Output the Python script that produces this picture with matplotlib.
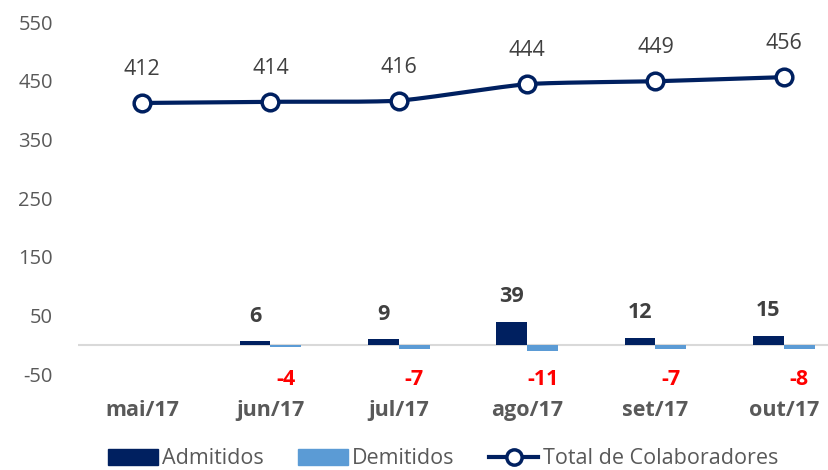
import numpy as np
import matplotlib
matplotlib.use('Agg')
import matplotlib.pyplot as plt
from matplotlib.lines import Line2D
from matplotlib.patches import Patch

plt.rcParams['font.family'] = ['Open Sans', 'DejaVu Sans']
plt.rcParams['axes.unicode_minus'] = False

meses = ['mai/17', 'jun/17', 'jul/17', 'ago/17', 'set/17', 'out/17']
admitidos = [0, 6, 9, 39, 12, 15]
demitidos = [0, -4, -7, -11, -7, -8]
total = [412, 414, 416, 444, 449, 456]

NAVY = '#002060'
LIGHT = '#5B9BD5'
GRAY = '#595959'
DARK = '#404040'


def smooth(xs, ys, n=30):
    # Catmull-Rom style curve through the points, like Excel's smoothed line
    xs = np.asarray(xs, float)
    ys = np.asarray(ys, float)
    px = np.concatenate([[xs[0]], xs, [xs[-1]]])
    py = np.concatenate([[ys[0]], ys, [ys[-1]]])
    out_x, out_y = [], []
    for i in range(1, len(px) - 2):
        t = np.linspace(0, 1, n)
        for p, o in ((px, out_x), (py, out_y)):
            p0, p1, p2, p3 = p[i - 1], p[i], p[i + 1], p[i + 2]
            m1 = (p2 - p0) / 2 * 0.6
            m2 = (p3 - p1) / 2 * 0.6
            h00 = 2 * t**3 - 3 * t**2 + 1
            h10 = t**3 - 2 * t**2 + t
            h01 = -2 * t**3 + 3 * t**2
            h11 = t**3 - t**2
            o.extend(h00 * p1 + h10 * m1 + h01 * p2 + h11 * m2)
    return out_x, out_y


fig = plt.figure(figsize=(8.29, 4.70), dpi=100)
ax = fig.add_axes([78 / 829, 96 / 470, 770 / 829, 352 / 470])

x = np.arange(len(meses))
w = 0.24
ax.bar(x - w / 2, admitidos, w, color=NAVY, zorder=2)
ax.bar(x + w / 2, demitidos, w, color=LIGHT, zorder=2)
ax.axhline(0, color='#D9D9D9', lw=1.5, zorder=1)

sx, sy = smooth(x, total)
ax.plot(sx, sy, color=NAVY, lw=3, zorder=3, solid_capstyle='round')
ax.plot(x, total, 'o', ms=12, mfc='white', mec=NAVY, mew=2.5, zorder=4)

for i in range(len(meses)):
    ax.annotate(str(total[i]), (x[i], total[i]), xytext=(0, 24), textcoords='offset points',
                ha='center', va='center', fontsize=15.5, color=DARK)
    if admitidos[i]:
        ax.annotate(str(admitidos[i]), (x[i] - w / 2, admitidos[i]), xytext=(0, 18),
                    textcoords='offset points', ha='center', va='center', fontsize=15.5,
                    fontweight='bold', color=DARK)
    if demitidos[i]:
        ax.text(x[i] + w / 2, -60, str(demitidos[i]), ha='center', va='center',
                fontsize=15.5, fontweight='bold', color='#FF0000')

ax.set_xlim(-0.5, len(meses) - 0.5)
ax.set_ylim(-50, 550)
ax.set_yticks(np.arange(-50, 551, 100))
ax.set_xticks(x)
ax.set_xticklabels(meses, fontweight='bold')
ax.tick_params(axis='y', length=0, pad=18, labelsize=14.5, labelcolor=GRAY)
ax.tick_params(axis='x', length=0, pad=19, labelsize=15.5, labelcolor=GRAY)
for s in ax.spines.values():
    s.set_visible(False)

handles = [Patch(color=NAVY), Patch(color=LIGHT),
           Line2D([], [], color=NAVY, lw=3, marker='o', ms=11, mfc='white', mec=NAVY, mew=2.5)]
fig.legend(handles, ['Admitidos', 'Demitidos', 'Total de Colaboradores'], loc='center',
           bbox_to_anchor=(443 / 829, 1 - 459 / 470), ncol=3, frameon=False, fontsize=15.5,
           labelcolor=GRAY, handlelength=2.3, handleheight=0.8, handletextpad=0.2,
           columnspacing=1.6)

fig.savefig('out.png', dpi=100)
